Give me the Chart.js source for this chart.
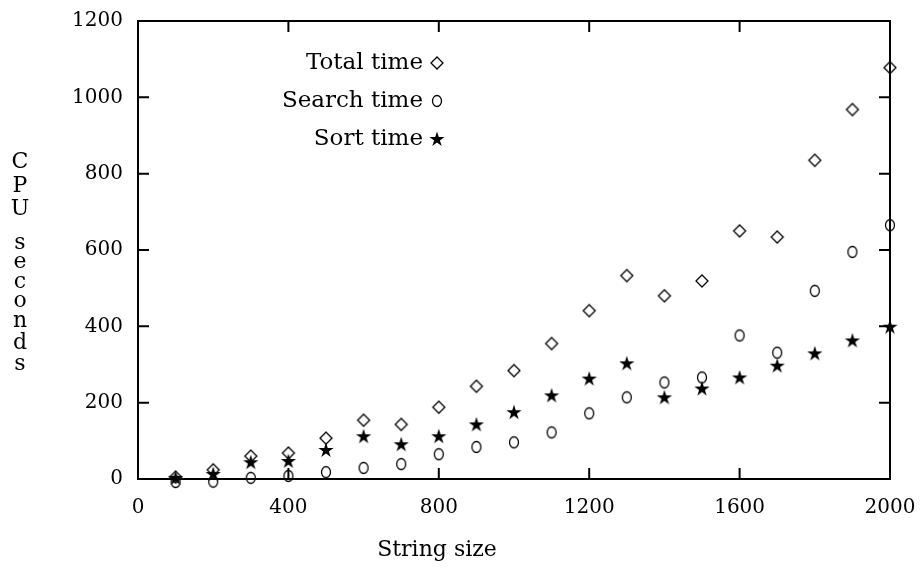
<!DOCTYPE html>
<html lang="en">
<head>
<meta charset="UTF-8">
<title>CPU seconds vs string size</title>
<script src="https://cdn.jsdelivr.net/npm/chart.js"></script>
<style>
  body { margin: 0; padding: 0; background: #fff; }
  #wrap { width: 920px; height: 569px; }
</style>
</head>
<body>
<div id="wrap"><canvas id="chart" width="920" height="569"></canvas></div>
<script>
const sizes = [100, 200, 300, 400, 500, 600, 700, 800, 900, 1000,
               1100, 1200, 1300, 1400, 1500, 1600, 1700, 1800, 1900, 2000];
const totalTime  = [5, 24, 60, 68, 107, 154, 143, 188, 243, 284,
                    355, 441, 533, 480, 519, 650, 634, 835, 968, 1078];
const searchTime = [-8, -7, 3, 8, 18, 29, 39, 65, 84, 96,
                    122, 172, 214, 253, 266, 376, 331, 493, 595, 665];
const sortTime   = [3, 13, 44, 47, 76, 112, 91, 112, 143, 175,
                    219, 263, 303, 214, 237, 266, 297, 329, 363, 399];
const xTicks = [0, 400, 800, 1200, 1600, 2000];
const yTicks = [0, 200, 400, 600, 800, 1000, 1200];
const seriesNames = ['Total time', 'Search time', 'Sort time'];

const FONT = '"DejaVu Serif", "Liberation Serif", serif';

// marker images
function makeMarker(kind) {
  const c = document.createElement('canvas');
  c.width = 18; c.height = 18;
  const g = c.getContext('2d');
  g.strokeStyle = '#000';
  g.fillStyle = '#000';
  g.lineWidth = 1.3;
  if (kind === 'diamond') {
    g.beginPath();
    g.moveTo(9, 3); g.lineTo(15, 9); g.lineTo(9, 15); g.lineTo(3, 9);
    g.closePath();
    g.stroke();
  } else if (kind === 'circle') {
    g.beginPath();
    g.ellipse(9, 9, 4.5, 5.5, 0, 0, Math.PI * 2);
    g.stroke();
  } else {
    g.beginPath();
    for (let i = 0; i < 10; i++) {
      const r = i % 2 === 0 ? 8 : 3;
      const a = -Math.PI / 2 + i * Math.PI / 5;
      const px = 9 + r * Math.cos(a), py = 9.5 + r * Math.sin(a);
      if (i === 0) g.moveTo(px, py); else g.lineTo(px, py);
    }
    g.closePath();
    g.fill();
  }
  return c;
}
const markers = [makeMarker('diamond'), makeMarker('circle'), makeMarker('star')];

function toPoints(values) {
  return sizes.map((s, i) => ({ x: s, y: values[i] }));
}

// frame, inward ticks, legend and axis titles
const framePlugin = {
  id: 'frame',
  afterDraw(chart) {
    const ctx = chart.ctx;
    const a = chart.chartArea;
    const xs = chart.scales.x, ys = chart.scales.y;
    ctx.save();
    ctx.strokeStyle = '#000';
    ctx.lineWidth = 2;
    ctx.strokeRect(a.left, a.top, a.right - a.left, a.bottom - a.top);
    ctx.beginPath();
    yTicks.forEach(v => {
      const y = ys.getPixelForValue(v);
      ctx.moveTo(a.left, y); ctx.lineTo(a.left + 11, y);
      ctx.moveTo(a.right, y); ctx.lineTo(a.right - 11, y);
    });
    xTicks.forEach(v => {
      const x = xs.getPixelForValue(v);
      ctx.moveTo(x, a.bottom); ctx.lineTo(x, a.bottom - 11);
      ctx.moveTo(x, a.top); ctx.lineTo(x, a.top + 11);
    });
    ctx.stroke();

    // legend
    ctx.fillStyle = '#000';
    ctx.font = '23px ' + FONT;
    ctx.textAlign = 'right';
    ctx.textBaseline = 'middle';
    seriesNames.forEach((name, i) => {
      const y = 63 + i * 38;
      ctx.fillText(name, 423, y);
      ctx.drawImage(markers[i], 437 - 9, y - 9);
    });

    // y title, stacked letters
    ctx.font = '22px ' + FONT;
    ctx.textAlign = 'center';
    const letters = ['C', 'P', 'U', '', 's', 'e', 'c', 'o', 'n', 'd', 's'];
    const ly = [162, 186, 209, 0, 243, 262, 282, 301, 321, 343, 364];
    letters.forEach((ch, i) => { if (ch) ctx.fillText(ch, 20, ly[i]); });

    // x title
    ctx.fillText('String size', 437, 550);
    ctx.restore();
  }
};

new Chart(document.getElementById('chart'), {
  type: 'scatter',
  data: {
    datasets: seriesNames.map((name, i) => ({
      label: name,
      data: toPoints([totalTime, searchTime, sortTime][i]),
      pointStyle: markers[i],
      clip: false
    }))
  },
  options: {
    responsive: false,
    animation: false,
    layout: { padding: { left: 0, right: 30, top: 21, bottom: 0 } },
    plugins: { legend: { display: false }, tooltip: { enabled: false } },
    scales: {
      x: {
        type: 'linear', min: 0, max: 2000,
        afterBuildTicks: s => { s.ticks = xTicks.map(v => ({ value: v })); },
        afterFit: s => { s.height = 90; s.paddingLeft = 0; s.paddingRight = 0; },
        grid: { display: false },
        border: { display: false },
        ticks: { color: '#000', font: { family: FONT, size: 20 }, padding: 9, maxRotation: 0,
                 callback: v => String(v) }
      },
      y: {
        type: 'linear', min: 0, max: 1200,
        afterBuildTicks: s => { s.ticks = yTicks.map(v => ({ value: v })); },
        afterFit: s => { s.width = 138; s.paddingTop = 0; s.paddingBottom = 0; },
        grid: { display: false },
        border: { display: false },
        ticks: { color: '#000', font: { family: FONT, size: 20 }, padding: 7,
                 callback: v => String(v) }
      }
    }
  },
  plugins: [framePlugin]
});
</script>
</body>
</html>
